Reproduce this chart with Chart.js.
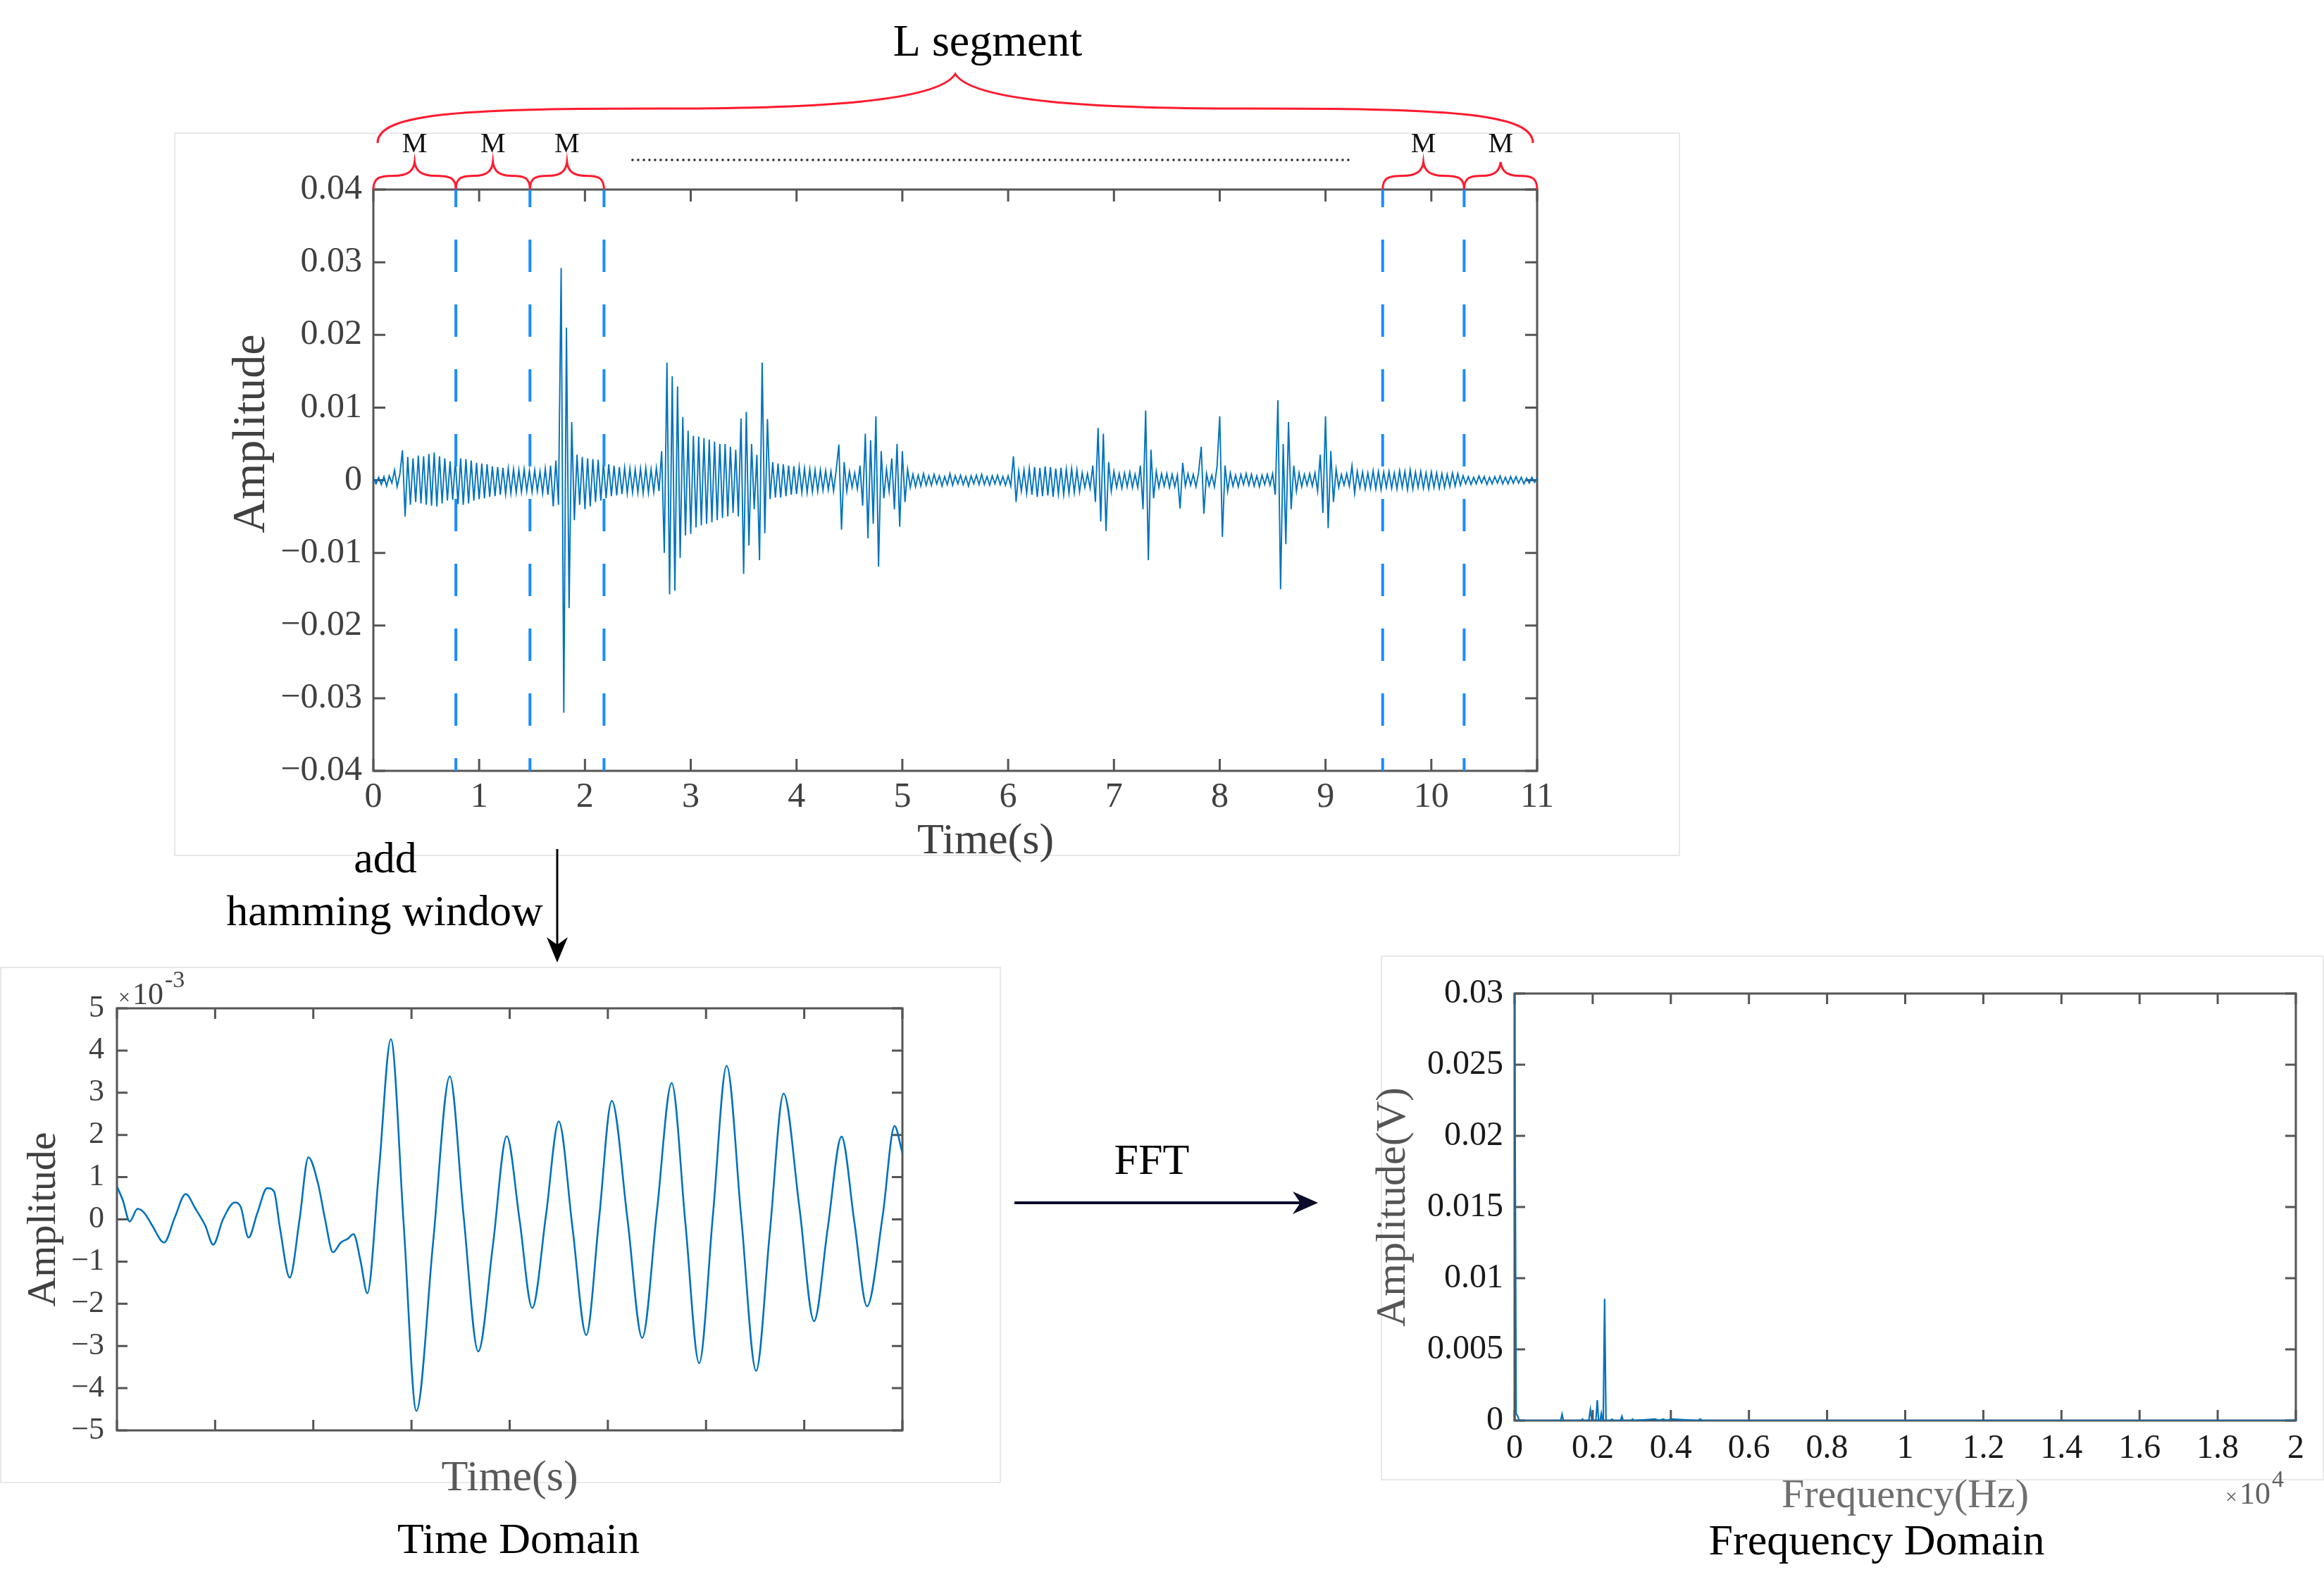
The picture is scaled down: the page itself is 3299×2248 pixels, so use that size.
<!DOCTYPE html>
<html>
<head>
<meta charset="utf-8">
<script src="https://cdn.jsdelivr.net/npm/chart.js@4.4.1/dist/chart.umd.min.js"></script>
<style>
  html, body { margin: 0; padding: 0; background: #fff; }
  #page { position: relative; width: 3299px; height: 2248px; overflow: hidden; background: #fff; }
  canvas { position: absolute; }
</style>
</head>
<body>
<div id="page">
  <canvas id="overlay" width="3299" height="2248" style="left:0;top:0"></canvas>
  <canvas id="topChart" width="2400" height="1250" style="left:0;top:0"></canvas>
  <canvas id="timeChart" width="1420" height="870" style="left:0;top:1372px"></canvas>
  <canvas id="freqChart" width="1369" height="891" style="left:1930px;top:1357px"></canvas>
</div>
<script>
const SERIF = "'Liberation Serif', 'Times New Roman', serif";

// top signal, amplitude in 1e-3 units, one sample every 0.025 s
const stepTop = 0.025;
const ampSec0 = [0.3,-0.5,0.4,-0.6,0.5,-0.8,0.6,-0.4,1.4,-0.9, 0.8,4.1,-5.0,3.2,-3.4,3.0,-3.0,3.4,-3.2,3.3,
  -3.4,3.6,-3.5,3.8,-3.6,3.3,-3.2,3.0,-2.8,2.6, -2.7,2.8,-3.3,3.0,-3.4,2.9,-3.2,2.7,-2.8,2.4];
const ampSec1 = [-2.6,2.3,-2.5,2.2,-2.3,1.9,-2.2,1.8,-2.0,1.7, -1.9,1.6,-1.8,1.5,-1.7,1.4,-1.6,1.5,-1.5,1.3,
  -1.6,1.4,-1.5,1.2,-1.8,1.6,-2.0,2.0,-3.6,2.7, -3.4,29.2,-32.0,21.0,-17.6,8.0,-5.5,3.5,-3.4,3.2];
const ampSec2 = [-4.0,3.0,-3.6,2.9,-3.0,2.8,-2.8,2.4,-2.5,2.2, -2.2,2.0,-2.1,1.8,-1.9,1.7,-1.8,1.6,-1.7,1.5,
  -1.7,1.6,-1.8,1.7,-1.7,1.5,-1.6,1.7,-1.5,4.0, -10.0,16.2,-15.7,14.3,-15.2,12.9,-10.7,8.7,-7.6,6.8];
const ampSec3 = [-7.4,6.1,-6.5,6.0,-6.2,5.8,-6.0,5.6,-5.8,5.3, -5.5,5.0,-5.2,5.0,-5.0,4.6,-4.5,4.2,-5.0,8.5,
  -12.9,9.4,-9.0,5.0,-4.0,3.5,-11.0,16.2,-7.3,8.4, -2.6,2.5,-2.4,2.3,-2.4,2.2,-2.2,2.0,-2.0,1.9];
const ampSec4 = [-1.9,1.8,-1.7,1.6,-1.7,1.5,-1.6,1.4,-1.5,1.4, -1.4,1.3,-1.3,1.2,-1.5,1.4,4.9,-6.8,2.5,-1.5,
  1.2,-1.0,1.0,-1.2,2.0,-3.5,6.4,-8.0,5.5,-6.0, 8.8,-11.9,4.0,-2.5,1.5,-1.5,3.0,-4.0,5.0,-6.4];
const ampSec5 = [4.0,-3.0,1.5,-1.0,0.8,-0.9,0.7,-0.8,0.9,-0.7, 0.6,-0.7,0.8,-0.5,0.6,-0.8,0.5,-0.6,0.9,-0.7,
  0.6,-0.5,0.7,-0.6,0.5,-0.8,0.6,-0.5,0.7,-0.6, 0.8,-0.6,0.5,-0.7,0.6,-0.5,0.7,-0.6,0.5,-0.7];
const ampSec6 = [0.6,-0.8,3.3,-3.0,1.2,-1.5,1.4,-1.8,1.6,-2.0, 1.8,-2.3,1.7,-2.2,1.9,-2.1,1.8,-2.3,1.6,-1.9,
  1.7,-2.0,1.5,-1.8,1.6,-1.7,1.4,-1.6,1.0,-1.0, 0.9,-1.1,2.0,-3.0,7.2,-5.7,6.4,-7.0,2.5,-1.5];
const ampSec7 = [1.2,-1.0,0.9,-1.1,1.0,-0.9,1.1,-1.0,0.8,-1.0, 2.0,-4.0,9.6,-11.0,4.2,-2.5,1.2,-1.0,0.9,-0.8,
  0.9,-1.0,0.8,-0.9,0.7,-3.9,2.4,-0.8,0.9,-0.7, 0.8,-0.9,1.0,4.6,-4.6,0.9,-0.8,0.7,-0.9,2.0];
const ampSec8 = [8.8,-7.8,2.0,-1.5,1.0,-0.8,0.7,-0.9,0.8,-0.6, 0.9,-0.7,0.8,-0.8,0.6,-0.9,0.7,-0.6,0.8,-0.7,
  0.9,-2.0,11.0,-15.0,5.0,-8.8,8.0,-4.0,2.0,-1.5, 1.0,-0.9,0.8,-0.7,0.9,-0.8,1.0,-1.5,3.5,-4.5];
const ampSec9 = [8.8,-6.6,4.0,-3.0,1.5,-1.0,0.8,-0.7,0.9,-0.8, 2.0,-1.8,1.2,-1.0,1.1,-1.2,1.0,-1.1,1.3,-1.2,
  1.2,-1.3,1.1,-1.0,1.2,-1.1,1.0,-1.2,1.3,-1.0, 1.2,-1.3,1.4,-1.2,1.1,-1.0,1.2,-1.1,1.0,-1.2];
const ampSec10 = [1.1,-1.0,1.0,-1.1,0.9,-1.0,0.8,-0.9,1.0,-0.8, 0.9,-0.7,0.6,-0.5,0.5,-0.6,0.4,-0.5,0.6,-0.4,
  0.5,-0.6,0.4,-0.5,0.5,-0.4,0.6,-0.5,0.4,-0.5, 0.5,-0.4,0.5,-0.4,0.4,-0.5,0.3,-0.4,0.4,-0.3, 0.3];

// where the signal is cut into frames (s)
const cutTimes = [0.78, 1.48, 2.18, 9.54, 10.31];
const mSegments = [[0, 0.78], [0.78, 1.48], [1.48, 2.18], [9.54, 10.31], [10.31, 11]];

// one windowed frame, amplitude in 1e-3
const hamT = [0.00,0.06,0.13,0.21,0.28,0.36,0.48,0.59,0.70,0.80,0.90,0.98,1.08,1.20,1.26,1.34,1.43,1.53,1.60,1.66,
  1.76,1.86,1.95,2.05,2.12,2.20,2.28,2.35,2.41,2.48,2.55,2.67,2.79,2.92,3.05,3.22,3.39,3.53,3.68,3.83,
  3.97,4.10,4.23,4.37,4.50,4.64,4.78,4.91,5.04,5.20,5.35,5.50,5.65,5.79,5.93,6.07,6.21,6.36,6.51,6.65,
  6.79,6.95,7.10,7.24,7.38,7.51,7.64,7.80,7.92,8.00];
const hamAmp = [0.78,0.45,-0.05,0.25,0.15,-0.15,-0.55,0.05,0.60,0.25,-0.15,-0.60,0.00,0.40,0.30,-0.43,0.15,0.74,0.66,-0.20,
  -1.38,0.00,1.47,0.83,0.00,-0.78,-0.55,-0.46,-0.35,-0.97,-1.75,1.20,4.27,-0.10,-4.54,-0.55,3.39,0.10,-3.13,-0.60,
  1.97,0.00,-2.10,0.10,2.32,-0.20,-2.74,0.00,2.81,0.00,-2.81,0.20,3.23,-0.10,-3.41,0.10,3.64,0.00,-3.59,-0.30,
  2.98,0.30,-2.41,-0.20,1.96,-0.05,-2.06,0.10,2.21,1.57];

// spectrum, frequency in 1e4 Hz
const specFreq = [0,0.004,0.008,0.012, 0.118,0.1215,0.125, 0.171,0.174,0.177, 0.19,0.194,0.198, 0.208,0.2118,0.215,
  0.219,0.222,0.225, 0.227,0.2305,0.234, 0.246,0.2495,0.253, 0.271,0.2747,0.278, 0.299,0.302,0.305,
  0.36,0.37,0.38,0.39,0.40, 0.47,0.475,0.48, 2.0];
const specAmp = [0.031,0.0005,0.0003,0, 0,0.00044,0, 0,0.0001,0, 0,0.00077,0, 0,0.00143,0,
  0,0.0005,0, 0,0.00855,0, 0,0.0001,0, 0,0.0003,0, 0,0.0001,0,
  0.0001,0,0.0001,0,0.0001, 0,0.0001,0, 0];

const topAmp = [].concat(ampSec0, ampSec1, ampSec2, ampSec3, ampSec4, ampSec5,
  ampSec6, ampSec7, ampSec8, ampSec9, ampSec10);
const topPoints = topAmp.map((v, i) => ({ x: i * stepTop, y: v / 1000 }));
const hamPoints = hamT.map((t, i) => ({ x: t, y: hamAmp[i] }));
const specPoints = specFreq.map((f, i) => ({ x: f, y: specAmp[i] }));

Chart.defaults.font.family = SERIF;
Chart.defaults.animation = false;

// MATLAB like box with inward ticks on all four sides
const boxPlugin = {
  id: 'box',
  beforeDatasetsDraw(chart, args, opts) {
    const { ctx, chartArea: a, scales: { x, y } } = chart;
    ctx.save();
    ctx.strokeStyle = opts.color;
    ctx.lineWidth = opts.width;
    ctx.beginPath();
    x.ticks.forEach(t => {
      const px = x.getPixelForValue(t.value);
      ctx.moveTo(px, a.bottom); ctx.lineTo(px, a.bottom - opts.len);
      ctx.moveTo(px, a.top); ctx.lineTo(px, a.top + opts.len);
    });
    y.ticks.forEach(t => {
      const py = y.getPixelForValue(t.value);
      ctx.moveTo(a.left, py); ctx.lineTo(a.left + opts.len, py);
      ctx.moveTo(a.right, py); ctx.lineTo(a.right - opts.len, py);
    });
    ctx.stroke();
    ctx.strokeRect(a.left, a.top, a.right - a.left, a.bottom - a.top);
    ctx.restore();
  }
};

function brace(ctx, x0, x1, yb, yt) {
  const w = x1 - x0, xm = (x0 + x1) / 2, h = yb - yt, ym = yb - h * 0.5;
  ctx.beginPath();
  ctx.moveTo(x0, yb);
  ctx.bezierCurveTo(x0, yb - h * 0.45, x0 + w * 0.08, ym, x0 + w * 0.25, ym);
  ctx.bezierCurveTo(xm - w * 0.12, ym, xm - w * 0.015, ym - h * 0.1, xm, yt);
  ctx.bezierCurveTo(xm + w * 0.015, ym - h * 0.1, xm + w * 0.12, ym, x1 - w * 0.25, ym);
  ctx.bezierCurveTo(x1 - w * 0.08, ym, x1, yb - h * 0.45, x1, yb);
  ctx.stroke();
}

// axis titles, cut lines, M braces, L brace
const topDeco = {
  id: 'topDeco',
  afterDraw(chart) {
    const { ctx, chartArea: a, scales: { x } } = chart;
    ctx.save();
    ctx.fillStyle = '#404040';
    ctx.textAlign = 'center';
    ctx.textBaseline = 'middle';
    ctx.font = '62px ' + SERIF;
    ctx.fillText('Time(s)', (a.left + a.right) / 2 + 43, a.bottom + 101);
    ctx.save();
    ctx.translate(358, (a.top + a.bottom) / 2 - 66);
    ctx.rotate(-Math.PI / 2);
    ctx.font = '66px ' + SERIF;
    ctx.fillText('Amplitude', 0, 0);
    ctx.restore();

    ctx.strokeStyle = '#1a8cff';
    ctx.lineWidth = 4;
    ctx.setLineDash([46, 46]);
    ctx.lineDashOffset = 21;
    cutTimes.forEach(t => {
      const px = x.getPixelForValue(t);
      ctx.beginPath(); ctx.moveTo(px, a.top); ctx.lineTo(px, a.bottom); ctx.stroke();
    });
    ctx.setLineDash([]);

    ctx.strokeStyle = '#ff1a2e';
    ctx.lineWidth = 3;
    ctx.fillStyle = '#111';
    ctx.font = '40px ' + SERIF;
    mSegments.forEach(([s, e]) => {
      const x0 = x.getPixelForValue(s), x1 = x.getPixelForValue(e);
      brace(ctx, x0, x1, a.top, a.top - 39);
      ctx.fillText('M', (x0 + x1) / 2, a.top - 64);
    });

    const lx0 = x.getPixelForValue(0) + 6, lx1 = x.getPixelForValue(11) - 6;
    brace(ctx, lx0, lx1, a.top - 66, a.top - 164);
    ctx.fillStyle = '#000';
    ctx.font = '64px ' + SERIF;
    ctx.fillText('L segment', (lx0 + lx1) / 2 + 46, a.top - 207);

    ctx.strokeStyle = '#222';
    ctx.lineWidth = 3;
    ctx.setLineDash([3, 5]);
    ctx.beginPath();
    ctx.moveTo(x.getPixelForValue(2.42), a.top - 42);
    ctx.lineTo(x.getPixelForValue(9.23), a.top - 42);
    ctx.stroke();
    ctx.restore();
  }
};

const expoLabel = {
  id: 'expoLabel',
  afterDraw(chart, args, opts) {
    const { ctx, chartArea: a } = chart;
    ctx.save();
    ctx.fillStyle = opts.color;
    ctx.textAlign = 'left';
    ctx.textBaseline = 'alphabetic';
    const bx = opts.atRight ? a.right + opts.dx : a.left + opts.dx;
    const by = opts.atBottom ? a.bottom + opts.dy : a.top + opts.dy;
    ctx.font = '30px ' + SERIF;
    ctx.fillText('\u00d7', bx, by);
    ctx.font = '44px ' + SERIF;
    ctx.fillText('10', bx + 20, by);
    ctx.font = '34px ' + SERIF;
    ctx.fillText(opts.power, bx + 66, by - 24);
    ctx.restore();
  }
};

function fixed(size) { return { family: SERIF, size: size }; }

new Chart(document.getElementById('topChart'), {
  type: 'line',
  data: { datasets: [{ data: topPoints, borderColor: '#0072bd', borderWidth: 1.9, pointRadius: 0, tension: 0 }] },
  options: {
    responsive: false,
    layout: { padding: { left: 0, top: 269, right: 218, bottom: 0 } },
    plugins: { legend: { display: false }, tooltip: { enabled: false },
      box: { color: '#555', width: 3, len: 17 } },
    scales: {
      x: {
        type: 'linear', min: 0, max: 11,
        afterFit: s => { s.height = 156; },
        grid: { display: false }, border: { display: false },
        ticks: { stepSize: 1, padding: 0, color: '#404040', font: fixed(50), maxRotation: 0, autoSkip: false }
      },
      y: {
        min: -0.04, max: 0.04,
        afterFit: s => { s.width = 530; },
        grid: { display: false }, border: { display: false },
        ticks: {
          stepSize: 0.01, padding: 8, color: '#404040', font: fixed(50),
          callback: v => { const r = Math.round(v * 100) / 100; return r === 0 ? '0' : (r < 0 ? '\u2212' : '') + Math.abs(r).toFixed(2); }
        }
      }
    }
  },
  plugins: [boxPlugin, topDeco]
});

new Chart(document.getElementById('timeChart'), {
  type: 'line',
  data: { datasets: [{ data: hamPoints, borderColor: '#0072bd', borderWidth: 2.6, pointRadius: 0, cubicInterpolationMode: 'monotone' }] },
  options: {
    responsive: false,
    layout: { padding: { left: 0, top: 59, right: 139, bottom: 100 } },
    plugins: { legend: { display: false }, tooltip: { enabled: false },
      box: { color: '#555', width: 3, len: 15 },
      expoLabel: { color: '#404040', power: '-3', dx: 2, dy: -6, atRight: false, atBottom: false } },
    scales: {
      x: {
        type: 'linear', min: 0, max: 8,
        afterFit: s => { s.height = 112; },
        grid: { display: false }, border: { display: false },
        ticks: { stepSize: 1, display: false },
        title: { display: true, text: 'Time(s)', color: '#595959', font: fixed(62), padding: { top: 0, bottom: 6 } }
      },
      y: {
        min: -5, max: 5,
        afterFit: s => { s.width = 166; },
        grid: { display: false }, border: { display: false },
        ticks: {
          stepSize: 1, padding: 10, color: '#404040', font: fixed(44),
          callback: v => { const r = Math.round(v); return r < 0 ? '\u2212' + (-r) : String(r); }
        },
        title: { display: true, text: 'Amplitude', color: '#404040', font: fixed(58), padding: { top: 28, bottom: 0 } }
      }
    }
  },
  plugins: [boxPlugin, expoLabel]
});

new Chart(document.getElementById('freqChart'), {
  type: 'line',
  data: { datasets: [{ data: specPoints, borderColor: '#0072bd', borderWidth: 2.2, pointRadius: 0, tension: 0 }] },
  options: {
    responsive: false,
    layout: { padding: { left: 0, top: 53, right: 40, bottom: 80 } },
    plugins: { legend: { display: false }, tooltip: { enabled: false },
      box: { color: '#555', width: 3, len: 15 },
      expoLabel: { color: '#606060', power: '4', dx: -100, dy: 118, atRight: true, atBottom: true } },
    scales: {
      x: {
        type: 'linear', min: 0, max: 2,
        afterFit: s => { s.height = 152; },
        grid: { display: false }, border: { display: false },
        ticks: { stepSize: 0.2, padding: 4, color: '#1a1a1a', font: fixed(48), maxRotation: 0, autoSkip: false,
          callback: v => String(Math.round(v * 10) / 10) },
        title: { display: true, text: 'Frequency(Hz)', color: '#707070', font: fixed(58), padding: { top: 0, bottom: 9 } }
      },
      y: {
        min: 0, max: 0.03,
        afterFit: s => { s.width = 220; },
        grid: { display: false }, border: { display: false },
        ticks: { stepSize: 0.005, padding: 8, color: '#1a1a1a', font: fixed(48),
          callback: v => String(Math.round(v * 1000) / 1000) },
        title: { display: true, text: 'Amplitude(V)', color: '#555', font: fixed(60), padding: { top: 12, bottom: 0 } }
      }
    }
  },
  plugins: [boxPlugin, expoLabel]
});

// free annotations around the charts
function arrow(ctx, x0, y0, x1, y1, head, half, color, lw) {
  const ang = Math.atan2(y1 - y0, x1 - x0), c = Math.cos(ang), s = Math.sin(ang);
  const bx = x1 - head * c, by = y1 - head * s;
  ctx.strokeStyle = color; ctx.fillStyle = color; ctx.lineWidth = lw;
  ctx.beginPath(); ctx.moveTo(x0, y0); ctx.lineTo(x1 - head * 0.6 * c, y1 - head * 0.6 * s); ctx.stroke();
  ctx.beginPath();
  ctx.moveTo(x1, y1);
  ctx.lineTo(bx - half * s, by + half * c);
  ctx.lineTo(x1 - head * 0.7 * c, y1 - head * 0.7 * s);
  ctx.lineTo(bx + half * s, by - half * c);
  ctx.closePath();
  ctx.fill();
}

const ov = document.getElementById('overlay').getContext('2d');
ov.strokeStyle = '#e8e8e8';
ov.lineWidth = 2;
ov.strokeRect(248, 189, 2136, 1025);
ov.strokeRect(1, 1373, 1419, 731);
ov.strokeRect(1961, 1357, 1337, 743);

ov.fillStyle = '#000';
ov.textAlign = 'center';
ov.textBaseline = 'middle';
ov.font = '62px ' + SERIF;
ov.fillText('add', 547, 1222);
ov.fillText('hamming window', 546, 1297);
ov.fillText('FFT', 1635, 1650);
ov.fillText('Time Domain', 736, 2188);
ov.fillText('Frequency Domain', 2664, 2190);
arrow(ov, 791, 1205, 791, 1366, 36, 15, '#000', 3);
arrow(ov, 1440, 1707, 1871, 1707, 36, 16, '#0b0b2a', 4);
</script>
</body>
</html>
